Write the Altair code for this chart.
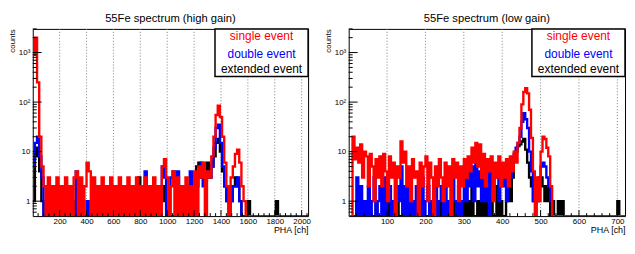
import altair as alt
import pandas as pd

# ---------------- data ----------------
SERIES = ["single event", "double event", "extended event"]
SERIES_COLORS = ["#ff0000", "#0000ff", "#000000"]

# high gain: 16-channel bins, 0..2048
HG_BIN_WIDTH = 16
HG_SINGLE = [
    900, 2000, 250, 20, 5,
    2, 0, 3, 0, 2, 0, 3, 0,
    2, 0, 3, 0, 2, 0, 3,
    4, 0, 3,
    0, 2, 6, 4, 0,
    3, 0, 2, 0, 3, 0, 2, 0,
    3, 0, 2, 0, 3, 0, 2, 0,
    3, 0, 2, 0, 3, 0, 2, 0,
    3, 0, 2, 0, 3, 0, 2, 0,
    5, 7, 3,
    0, 2, 4, 0, 3, 0, 2, 0,
    3, 0, 2, 0,
    4, 0, 5, 3, 6, 0, 4, 3,
    8, 20, 55, 85, 50, 20, 6, 2, 0, 3, 5, 9, 11, 6, 2, 1,
    0, 0, 0, 0, 0, 0, 0, 0, 0, 0, 0, 0, 0, 0, 0, 0, 0, 0, 0, 0,
    0, 0, 0, 0, 0, 0, 0, 0, 0,
]
HG_DOUBLE = [
    5, 15, 20, 8, 3,
    0, 0, 0, 0, 0, 0, 0, 1,
    0, 0, 0, 0, 1, 0, 0,
    4, 0, 0, 0, 0, 1, 0, 0,
    0, 2, 0, 0, 0, 0, 0, 0,
    0, 0, 0, 0, 1, 0, 0, 0,
    0, 1, 0, 0, 0, 0, 0, 0,
    4, 0, 0, 0, 1, 0, 0, 0,
    5, 3, 0, 0, 3, 4, 0, 4,
    0, 0, 1, 0, 0, 4, 0,
    0, 2, 3, 6, 2, 3, 4, 3,
    5, 12, 30, 35, 15, 5, 2, 1, 0, 1, 2, 2, 3, 1, 0, 0,
    0, 0, 0, 0, 0, 0, 0, 0, 0, 0, 0, 0, 0, 0, 0, 0, 0, 0, 0, 0,
    0, 0, 0, 0, 0, 0, 0, 0, 0,
]
HG_EXTENDED = [
    1, 8, 12, 4, 1,
    0, 0, 0, 0, 1, 0, 0, 0,
    0, 0, 0, 0, 0, 1, 0,
    0, 0, 0, 0, 0, 0, 0, 0,
    0, 0, 0, 1, 0, 0, 0, 0,
    0, 0, 0, 0, 0, 0, 0, 0,
    0, 0, 0, 0, 1, 3, 0, 0,
    0, 0, 0, 0, 0, 0, 0, 0,
    1, 2, 0, 0, 0, 0, 0, 0,
    0, 0, 0, 1, 0, 0, 2,
    2, 5, 6, 3, 5, 4, 6, 3,
    5, 8, 15, 18, 10, 4, 2, 1, 2, 1, 2, 3, 2, 1, 0, 0,
    0, 1, 0, 0, 0, 0, 0, 0, 0, 0, 0, 0, 0, 0, 1,
    0, 0, 0, 0, 0, 0, 0, 0, 0, 0, 0, 0, 0, 0,
]

# low gain: 5-channel bins, 0..720
LG_BIN_WIDTH = 5
LG_SINGLE = [
    0, 0, 20, 7, 12, 6, 14, 3, 10, 8,
    2, 9, 5, 1, 7, 3, 8, 2, 9, 4,
    1, 8, 3, 6, 0, 5, 3, 16, 6, 10,
    2, 5, 1, 7, 3, 4, 0, 6, 2, 5,
    8, 1, 6, 3, 0, 5, 2, 7, 3, 1,
    6, 2, 5, 0, 7, 3, 6, 1, 5, 2,
    7, 3, 8, 4, 12, 6, 15, 5, 14, 3,
    9, 2, 7, 4, 8, 1, 6, 3, 8, 2,
    6, 3, 7, 2, 8, 4, 10, 6, 15, 30,
    90, 160, 190, 150, 70, 19, 4, 0, 3, 1,
    10, 20, 18, 12, 8, 2,
    0, 0, 0, 0, 0, 0, 0, 0, 0, 0, 0, 0, 0, 0, 0, 0, 0, 0, 0, 0,
    0, 0, 0, 0, 0, 0, 0, 0, 0, 0, 0, 0, 0, 0, 0, 0, 0, 0,
]
LG_DOUBLE = [
    0, 0, 0, 0, 3, 0, 2, 0, 1, 0,
    2, 0, 1, 3, 0, 1, 2, 0, 3, 0,
    1, 2, 0, 1, 0, 2, 1, 5, 0, 2,
    0, 3, 0, 1, 0, 2, 1, 0, 3, 0,
    1, 2, 0, 1, 0, 3, 0, 1, 2, 0,
    2, 0, 1, 0, 3, 1, 0, 2, 0, 1,
    3, 1, 4, 2, 5, 1, 6, 2, 4, 1,
    3, 1, 5, 0, 4, 2, 3, 5, 1, 3,
    2, 4, 1, 5, 3, 6, 9, 12, 15, 20,
    40, 60, 45, 30, 10, 4, 1, 2, 1, 3,
    5, 6, 5, 3, 2, 1,
    0, 0, 0, 0, 0, 0, 0, 0, 0, 0, 0, 0, 0, 0, 0, 0, 0, 0, 0, 0,
    0, 0, 0, 0, 0, 0, 0, 0, 0, 0, 0, 0, 0, 0, 0, 0, 0, 0,
]
LG_EXTENDED = [
    0, 0, 0, 0, 1, 0, 0, 0, 0, 1,
    0, 0, 0, 0, 1, 0, 0, 0, 0, 0,
    1, 0, 0, 0, 0, 1, 0, 0, 1, 0,
    0, 0, 1, 0, 0, 0, 0, 1, 0, 0,
    0, 0, 1, 0, 0, 0, 0, 1, 0, 0,
    1, 0, 0, 0, 1, 0, 0, 0, 1, 0,
    1, 0, 1, 0, 2, 0, 0, 1, 0, 2,
    0, 1, 0, 0, 1, 0, 0, 2, 0, 1,
    0, 0, 1, 2, 1, 3, 7, 10, 13, 14,
    16, 18, 11, 6, 3, 2, 1, 2, 1, 2,
    3, 2, 1, 2, 1, 0,
    1, 0, 0, 1, 0, 1,
    0, 0, 0, 0, 0, 0, 0, 0, 0, 0, 0, 0, 0, 0, 0, 0, 0, 0, 0, 0,
    0, 0, 0, 0, 0, 0, 0, 0,
    1, 0, 0, 0,
]

HG_XTICKS = [200, 400, 600, 800, 1000, 1200, 1400, 1600, 1800, 2000]
LG_XTICKS = [100, 200, 300, 400, 500, 600, 700]
Y_MAJOR = [1, 10, 100, 1000]
Y_MINOR = [0.6, 0.7, 0.8, 0.9, 2, 3, 4, 5, 6, 7, 8, 9,
           20, 30, 40, 50, 60, 70, 80, 90,
           200, 300, 400, 500, 600, 700, 800, 900, 2000, 3000]

FONT = "Liberation Sans"
H = 189


def hist_frame(counts, binw, name):
    n = len(counts)
    return pd.DataFrame({
        "pha": [i * binw for i in range(n + 1)],
        "counts": list(counts) + [counts[-1]],
        "series": name,
    })


def panel(title, counts_list, binw, xmax, xticks, minor_step, width):
    xs = alt.Scale(domain=[0, xmax], nice=False, zero=False)
    ys = alt.Scale(type="log", domain=[0.5, 3000], nice=False)
    xaxis = alt.Axis(values=xticks, format="d", title="PHA [ch]", titleAnchor="end",
                     titleFontSize=9, titleFontWeight="normal", titleFont=FONT,
                     titlePadding=1, labelFont=FONT, labelFontSize=8, labelPadding=1,
                     tickSize=0, domain=False, grid=False, labelColor="black",
                     titleColor="black", labelFlush=False)
    yaxis = alt.Axis(values=Y_MAJOR,
                     labelExpr="datum.value >= 999 ? '10³' : datum.value >= 99 ? '10²' : datum.value >= 9 ? '10' : '1'",
                     title="counts", titleAngle=270, titleX=-18, titleY=0, titleAlign="right",
                     titleBaseline="alphabetic", titleFontSize=8, titleFontWeight="normal",
                     titleFont=FONT, titleColor="black",
                     labelFont=FONT, labelFontSize=8, labelPadding=3, labelColor="black",
                     tickSize=0, domain=False, grid=False)

    X = lambda f: alt.X(f, type="quantitative", scale=xs, axis=xaxis)
    Y = lambda f: alt.Y(f, type="quantitative", scale=ys, axis=yaxis)

    xminor = [v for v in range(minor_step, xmax, minor_step) if v not in xticks]

    layers = []
    layers.append(alt.Chart(pd.DataFrame({"pha": xticks})).mark_rule(
        color="#808080", strokeDash=[1, 2], strokeWidth=1).encode(x=X("pha")))

    order = [2, 1, 0]  # extended, double, single (single drawn on top)
    for k in order:
        df = hist_frame(counts_list[k], binw, SERIES[k])
        layers.append(alt.Chart(df).transform_calculate(
            yv="max(datum.counts, 0.5)").mark_line(
            interpolate="step-after", color=SERIES_COLORS[k], strokeWidth=2.4, clip=True
        ).encode(x=X("pha"), y=Y("yv")))

    layers.append(alt.Chart(pd.DataFrame({"pha": xminor})).mark_rule(color="black").encode(
        x=X("pha"), y=alt.value(H), y2=alt.value(H - 3)))
    layers.append(alt.Chart(pd.DataFrame({"pha": xticks})).mark_rule(color="black").encode(
        x=X("pha"), y=alt.value(H), y2=alt.value(H - 6)))
    layers.append(alt.Chart(pd.DataFrame({"c": Y_MINOR})).mark_rule(color="black").encode(
        y=Y("c"), x=alt.value(0), x2=alt.value(4)))
    layers.append(alt.Chart(pd.DataFrame({"c": Y_MAJOR})).mark_rule(color="black").encode(
        y=Y("c"), x=alt.value(0), x2=alt.value(9)))

    # legend box
    layers.append(alt.Chart(pd.DataFrame({"a": [0]})).mark_rect(
        fill="white", stroke="black", strokeWidth=1.5).encode(
        x=alt.value(width - 94), x2=alt.value(width), y=alt.value(0), y2=alt.value(48)))
    for k, ypos in zip(range(3), [7, 25, 41]):
        layers.append(alt.Chart(pd.DataFrame({"label": [SERIES[k]]})).mark_text(
            color=SERIES_COLORS[k], fontSize=12, font=FONT, align="center", baseline="middle"
        ).encode(text="label:N", x=alt.value(width - 47), y=alt.value(ypos)))

    return alt.layer(*layers).properties(
        width=width, height=H,
        title=alt.TitleParams(title, fontSize=11.3, font=FONT, fontWeight="normal",
                              color="black", offset=4, anchor="middle"))


left = panel("55Fe spectrum (high gain)", [HG_SINGLE, HG_DOUBLE, HG_EXTENDED],
             HG_BIN_WIDTH, 2048, HG_XTICKS, 40, 278)
right = panel("55Fe spectrum (low gain)", [LG_SINGLE, LG_DOUBLE, LG_EXTENDED],
              LG_BIN_WIDTH, 720, LG_XTICKS, 20, 279)

chart = alt.hconcat(left, right, spacing=13).properties(
    padding={"left": 0, "top": 3, "right": 0, "bottom": 0}
).configure_view(stroke="black", strokeWidth=1)

chart.save("out.html", embed_options={"renderer": "svg", "actions": False})
